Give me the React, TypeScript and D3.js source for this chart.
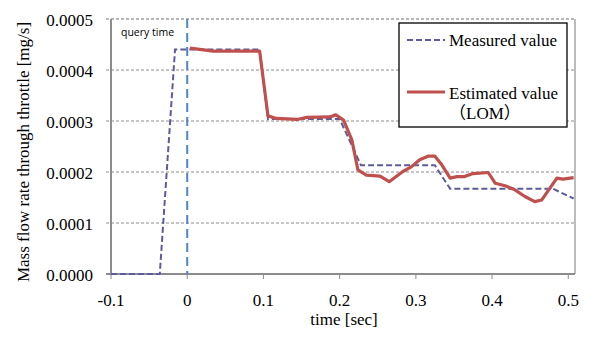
import React from "react";
import * as d3 from "d3";

const yTicks = [0, 0.0001, 0.0002, 0.0003, 0.0004, 0.0005];
const xTicks = [-0.1, 0, 0.1, 0.2, 0.3, 0.4, 0.5];

const measuredT = [-0.1, -0.036, -0.016, 0.095, 0.106, 0.2, 0.228, 0.325, 0.345, 0.48, 0.507];
const measuredV = [0, 0, 0.00044, 0.00044, 0.000304, 0.000304, 0.000213, 0.000213, 0.000167, 0.000167, 0.000148];

const estimatedT = [0.0035, 0.034, 0.095, 0.106, 0.117, 0.144, 0.157, 0.187, 0.195, 0.205, 0.216, 0.224, 0.235, 0.253, 0.265, 0.283, 0.294, 0.305, 0.316, 0.325, 0.334, 0.345, 0.354, 0.364, 0.375, 0.395, 0.404, 0.417, 0.43, 0.443, 0.456, 0.465, 0.485, 0.493, 0.507];
const estimatedV = [0.000443, 0.000437, 0.000437, 0.00031, 0.000305, 0.000303, 0.000307, 0.000308, 0.000312, 0.000302, 0.000263, 0.000204, 0.000194, 0.000192, 0.000181, 0.000201, 0.00021, 0.000224, 0.000231, 0.000231, 0.000214, 0.000188, 0.000191, 0.000191, 0.000197, 0.000199, 0.000178, 0.000173, 0.000165, 0.000152, 0.000142, 0.000145, 0.000188, 0.000186, 0.000189];

const queryTime = 0;

export default function App() {
  const x = d3.scaleLinear().domain([-0.1, 0.5088]).range([111, 575]);
  const y = d3.scaleLinear().domain([0, 0.0005]).range([274, 19]);
  const line = d3
    .line<[number, number]>()
    .x((d) => x(d[0]))
    .y((d) => y(d[1]));
  const measured = measuredT.map((t, i) => [t, measuredV[i]] as [number, number]);
  const estimated = estimatedT.map((t, i) => [t, estimatedV[i]] as [number, number]);
  const serif = "'Liberation Serif', 'Times New Roman', serif";
  const grey = "#8c8c8c";

  return (
    <svg
      width={593}
      height={338}
      style={{ position: "fixed", left: 0, top: 0, background: "#fff" }}
    >
      <rect x={0} y={0} width={593} height={338} fill="#fff" />
      {/* gridlines */}
      {yTicks.map((t) =>
        t === 0 ? null : (
          <line
            key={"g" + t}
            x1={106}
            x2={575}
            y1={y(t)}
            y2={y(t)}
            stroke={t === 0.0005 ? "#a0a0a0" : grey}
            strokeWidth={t === 0.0005 ? 1.6 : 1}
            strokeDasharray="3,2"
          />
        )
      )}
      {/* right border */}
      <line x1={575} x2={575} y1={19} y2={274} stroke="#a6a6a6" strokeWidth={1.5} />
      {/* axes */}
      <line x1={111} x2={111} y1={19} y2={274} stroke={grey} strokeWidth={2} />
      <line x1={106} x2={575} y1={274} y2={274} stroke={grey} strokeWidth={2} />
      {xTicks.map((t) => (
        <line key={"xt" + t} x1={x(t)} x2={x(t)} y1={274} y2={279} stroke={grey} strokeWidth={1} />
      ))}
      {/* y labels */}
      {yTicks.map((t) => (
        <text
          key={"yl" + t}
          x={93}
          y={y(t) + 7}
          textAnchor="end"
          fontFamily={serif}
          fontSize={17}
          fill="#000"
        >
          {t.toFixed(4)}
        </text>
      ))}
      {/* x labels */}
      {xTicks.map((t) => (
        <text
          key={"xl" + t}
          x={x(t)}
          y={306}
          textAnchor="middle"
          fontFamily={serif}
          fontSize={17}
          fill="#000"
        >
          {t === 0 ? "0" : String(t)}
        </text>
      ))}
      {/* titles */}
      <text x={344} y={325} textAnchor="middle" fontFamily={serif} fontSize={17} fill="#000">
        time [sec]
      </text>
      <text
        transform={`translate(29,152) rotate(-90)`}
        textAnchor="middle"
        fontFamily={serif}
        fontSize={17}
        fill="#000"
      >
        Mass flow rate through throttle [mg/s]
      </text>
      {/* query time line */}
      <line
        x1={x(queryTime)}
        x2={x(queryTime)}
        y1={19}
        y2={274}
        stroke="#4f86c6"
        strokeWidth={2}
        strokeDasharray="9,5"
      />
      <text x={121} y={36} fontFamily="'Open Sans', sans-serif" fontSize={10.5} fill="#000">
        query time
      </text>
      {/* series */}
      <path d={line(measured) || ""} fill="none" stroke="#5b5b9d" strokeWidth={2} strokeDasharray="6,3" />
      <path d={line(estimated) || ""} fill="none" stroke="#c0504d" strokeWidth={3.2} strokeLinejoin="round" />
      {/* legend */}
      <rect x={399} y={23} width={168} height={104} fill="#fff" stroke="#000" strokeWidth={1.3} />
      <line x1={407} x2={445} y1={40} y2={40} stroke="#5b5b9d" strokeWidth={2} strokeDasharray="6,3" />
      <text x={449} y={46} fontFamily={serif} fontSize={17} fill="#000">
        Measured value
      </text>
      <line x1={407} x2={445} y1={92} y2={92} stroke="#c0504d" strokeWidth={3.2} />
      <text x={449} y={99} fontFamily={serif} fontSize={17} fill="#000">
        Estimated value
      </text>
      <text x={449} y={119} fontFamily={`${serif}, 'Noto Sans CJK JP'`} fontSize={17} fill="#000">
        （LOM）
      </text>
    </svg>
  );
}
